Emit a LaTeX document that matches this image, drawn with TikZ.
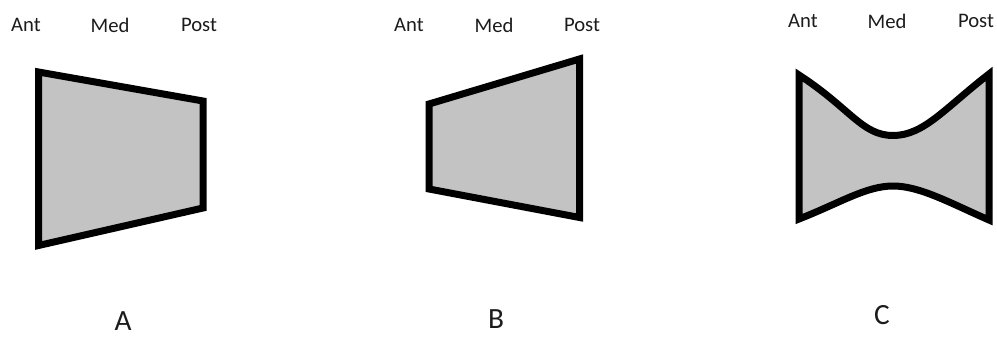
\documentclass[tikz,border=0pt]{standalone}
\usepackage{fontspec}
\setmainfont{Carlito}
\definecolor{shapefill}{HTML}{C3C3C3}
\definecolor{labelink}{HTML}{1C1C1C}
\begin{document}
\begin{tikzpicture}[x=0.75pt,y=-0.75pt,
  axislabel/.style={text=labelink,font=\fontsize{15.5pt}{18pt}\selectfont,inner sep=0pt,anchor=center},
  tag/.style={text=labelink,font=\fontsize{22pt}{26pt}\selectfont,inner sep=0pt,anchor=center},
  outline/.style={draw=black,fill=shapefill,line width=5.25pt,line join=miter}]
\useasboundingbox (0,0) rectangle (997,336);

% panel A: narrows from anterior to posterior
\draw[outline] (38.5,72) -- (203,101) -- (203,208) -- (38.5,245.5) -- cycle;
\node[axislabel] (antA) at (26,25) {Ant};
\node[axislabel] (medA) at (110,25) {Med};
\node[axislabel] (postA) at (199,25) {Post};
\node[tag] (labA) at (123,321) {A};

% panel B: widens from anterior to posterior
\draw[outline] (429,104) -- (579.5,59) -- (579.5,217.5) -- (429,189) -- cycle;
\node[axislabel] (antB) at (409,25) {Ant};
\node[axislabel] (medB) at (494,25) {Med};
\node[axislabel] (postB) at (582,25) {Post};
\node[tag] (labB) at (496,319) {B};

% panel C: waisted in the middle
\draw[outline] (799,75)
  .. controls (850,108) and (862,135.5) .. (893,135.5)
  .. controls (924,135.5) and (945,108) .. (989,74)
  -- (989,220)
  .. controls (950,203) and (920,186) .. (893,186)
  .. controls (866,186) and (840,203) .. (799,219)
  -- cycle;
\node[axislabel] (antC) at (803,21) {Ant};
\node[axislabel] (medC) at (887,21) {Med};
\node[axislabel] (postC) at (976,21) {Post};
\node[tag] (labC) at (882,315) {C};
\end{tikzpicture}
\end{document}
